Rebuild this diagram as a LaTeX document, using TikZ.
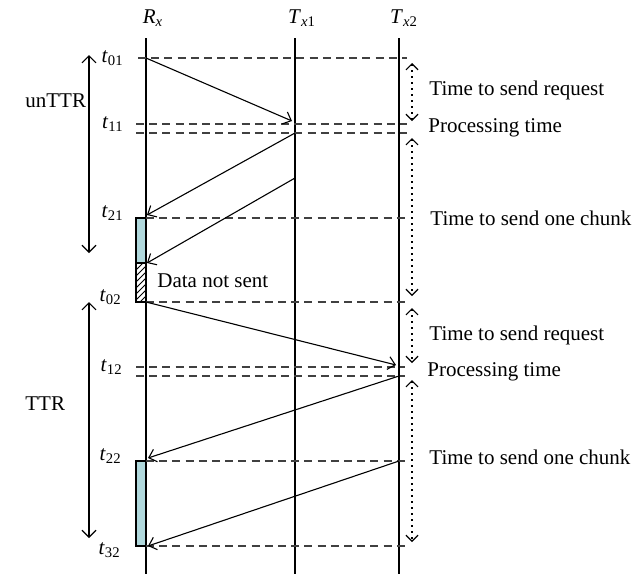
\documentclass[tikz,border=0pt]{standalone}
\usepackage{fontspec}
\setmainfont{Liberation Serif}
\usetikzlibrary{arrows.meta,patterns}
\tikzset{
  lifeline/.style={line width=0.55pt},
  msg/.style={line width=0.55pt,-{Straight Barb[length=3.5pt,width=6.5pt]}},
  guide/.style={line width=0.55pt,black!75,dash pattern=on 4pt off 2.6pt},
  span/.style={line width=0.6pt,dash pattern=on 0.6pt off 2.4pt,
    {Straight Barb[length=3pt,width=6pt]}-{Straight Barb[length=3pt,width=6pt]}},
  phase/.style={line width=0.55pt,
    {Straight Barb[length=3.5pt,width=7pt]}-{Straight Barb[length=3.5pt,width=7pt]}},
  lbl/.style={anchor=west,inner sep=0pt},
  tl/.style={anchor=east,inner sep=0pt},
  chunk/.style={draw,line width=0.55pt,fill={rgb,255:red,176;green,216;blue,220}},
  lost/.style={draw,line width=0.55pt,pattern=north east lines}
}
\begin{document}
\begin{tikzpicture}[x=0.5pt,y=-0.5pt,font=\fontsize{10.5}{12}\selectfont]
\useasboundingbox (0,0) rectangle (637,574);
% lifelines
\coordinate (Rtop) at (146,38); \coordinate (Rbot) at (146,574);
\coordinate (Atop) at (295,38); \coordinate (Abot) at (295,574);
\coordinate (Btop) at (399,38); \coordinate (Bbot) at (399,574);
\node (Rx) at (153,18) {\textit{R}\textsubscript{\textit{x}}};
\node (Tx1) at (302,18) {\textit{T}\textsubscript{\textit{x}1}};
\node (Tx2) at (404,18) {\textit{T}\textsubscript{\textit{x}2}};
% boxes
\draw[chunk] (136,218) rectangle (146,263);
\draw[lost] (136,263) rectangle (146,302);
\draw[chunk] (136,461) rectangle (146,546);
\draw[lifeline] (Rtop) -- (Rbot);
\draw[lifeline] (Atop) -- (Abot);
\draw[lifeline] (Btop) -- (Bbot);
% guide lines
\coordinate (g01a) at (138,58);  \coordinate (g01b) at (407,58);
\coordinate (g11a) at (136,124); \coordinate (g11b) at (407,124);
\coordinate (g11c) at (136,133); \coordinate (g11d) at (407,133);
\coordinate (g21a) at (146,218); \coordinate (g21b) at (407,218);
\coordinate (g02a) at (146,302); \coordinate (g02b) at (407,302);
\coordinate (g12a) at (136,367); \coordinate (g12b) at (405,367);
\coordinate (g12c) at (136,376); \coordinate (g12d) at (405,376);
\coordinate (g22a) at (146,461); \coordinate (g22b) at (405,461);
\coordinate (g32a) at (146,546); \coordinate (g32b) at (405,546);
\foreach \a/\b in {g01a/g01b,g11a/g11b,g11c/g11d,g21a/g21b,g02a/g02b,g12a/g12b,g12c/g12d,g22a/g22b,g32a/g32b}
  \draw[guide] (\a) -- (\b);
% messages
\coordinate (m1s) at (146,58);  \coordinate (m1e) at (292,121);
\coordinate (m2s) at (295,133); \coordinate (m2e) at (147,215);
\coordinate (m3s) at (295,178); \coordinate (m3e) at (147,263);
\coordinate (m4s) at (146,302); \coordinate (m4e) at (396,365);
\coordinate (m5s) at (399,376); \coordinate (m5e) at (148,458);
\coordinate (m6s) at (399,461); \coordinate (m6e) at (148,546);
\draw[msg] (m1s) -- (m1e);
\draw[msg] (m2s) -- (m2e);
\draw[msg] (m3s) -- (m3e);
\draw[msg] (m4s) -- (m4e);
\draw[msg] (m5s) -- (m5e);
\draw[msg] (m6s) -- (m6e);
% time labels
\node[tl] (t01) at (124,58) {\textit{t}\textsubscript{01}};
\node[tl] (t11) at (124,124) {\textit{t}\textsubscript{11}};
\node[tl] (t21) at (124,213) {\textit{t}\textsubscript{21}};
\node[tl] (t02) at (122,297) {\textit{t}\textsubscript{02}};
\node[tl] (t12) at (123,367) {\textit{t}\textsubscript{12}};
\node[tl] (t22) at (122,456) {\textit{t}\textsubscript{22}};
\node[tl] (t32) at (121,550) {\textit{t}\textsubscript{32}};
% phases
\coordinate (p1a) at (89,55);  \coordinate (p1b) at (89,253);
\coordinate (p2a) at (89,302); \coordinate (p2b) at (89,538);
\draw[phase] (p1a) -- (p1b);
\draw[phase] (p2a) -- (p2b);
\node[lbl] (unTTR) at (25,101) {unTTR};
\node[lbl] (TTR) at (25,404) {TTR};
% spans
\coordinate (s1a) at (412,63);  \coordinate (s1b) at (412,121);
\coordinate (s2a) at (412,138); \coordinate (s2b) at (412,296);
\coordinate (s3a) at (412,308); \coordinate (s3b) at (412,363);
\coordinate (s4a) at (412,380); \coordinate (s4b) at (412,542);
\draw[span] (s1a) -- (s1b);
\draw[span] (s2a) -- (s2b);
\draw[span] (s3a) -- (s3b);
\draw[span] (s4a) -- (s4b);
\node[lbl] (req1) at (429,90) {Time to send request};
\node[lbl] (proc1) at (428,128) {Processing time};
\node[lbl] (chk1) at (430,218) {Time to send one chunk};
\node[lbl] (dns) at (157,281) {Data not sent};
\node[lbl] (req2) at (429,335) {Time to send request};
\node[lbl] (proc2) at (427,372) {Processing time};
\node[lbl] (chk2) at (429,457) {Time to send one chunk};
\end{tikzpicture}
\end{document}
